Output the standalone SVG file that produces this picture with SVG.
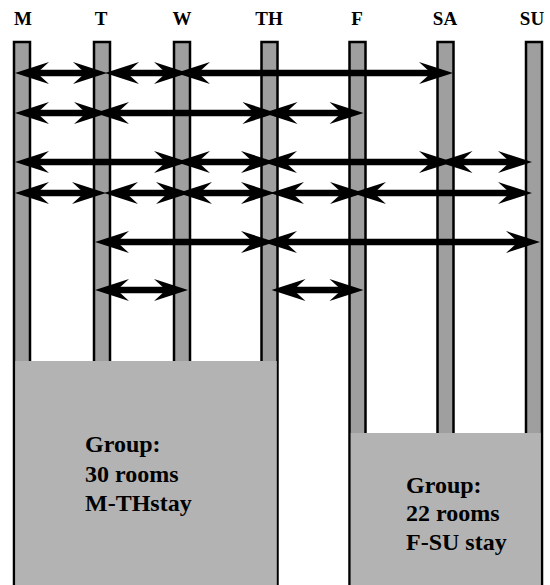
<svg xmlns="http://www.w3.org/2000/svg" width="550" height="585" viewBox="0 0 550 585">
  <style>
    .day { font-family: "Liberation Serif", "DejaVu Serif", "Noto Serif", serif; font-weight: bold; font-size: 19px; fill: #000; text-anchor: middle; }
    .bar { fill: #9f9f9f; stroke: #000; stroke-width: 2.5; }
    .block { fill: #b3b3b3; stroke: none; }
    .note { font-family: "Liberation Serif", "DejaVu Serif", "Noto Serif", serif; font-weight: bold; font-size: 24px; fill: #000; }
    .shaft { stroke: #000; stroke-width: 6.5; fill: none; marker-start: url(#head); marker-end: url(#head); }
  </style>
  <defs>
    <!-- swallowtail arrowhead; drawn past the shaft end so the tip lands 18px further on -->
    <marker id="head" markerUnits="userSpaceOnUse" orient="auto-start-reverse" refX="0" refY="0"
            markerWidth="40" markerHeight="26" overflow="visible">
      <path d="M18,0 L-16,-11 L-4,0 L-16,11 Z" fill="#000"/>
    </marker>
  </defs>

  <rect width="550" height="585" fill="#fff"/>

  <!-- day columns -->
  <g id="day-m"><text class="day" x="23" y="25">M</text><rect class="bar" x="14" y="42" width="16" height="560"/></g>
  <g id="day-t"><text class="day" x="101" y="25">T</text><rect class="bar" x="94" y="42" width="16" height="560"/></g>
  <g id="day-w"><text class="day" x="182" y="25">W</text><rect class="bar" x="174" y="42" width="16" height="560"/></g>
  <g id="day-th"><text class="day" x="269" y="25">TH</text><rect class="bar" x="261.5" y="42" width="16" height="560"/></g>
  <g id="day-f"><text class="day" x="357" y="25">F</text><rect class="bar" x="349.5" y="42" width="16" height="560"/></g>
  <g id="day-sa"><text class="day" x="445" y="25">SA</text><rect class="bar" x="437.5" y="42" width="16" height="560"/></g>
  <g id="day-su"><text class="day" x="532" y="25">SU</text><rect class="bar" x="526" y="42" width="16" height="560"/></g>

  <!-- stays: shafts run between points 18px inside each tip -->
  <g id="connectors">
    <!-- row 1 -->
    <line class="shaft" x1="33" y1="73" x2="89" y2="73"/>
    <line class="shaft" x1="123" y1="73" x2="170" y2="73"/>
    <line class="shaft" x1="194" y1="73" x2="435" y2="73"/>
    <!-- row 2 -->
    <line class="shaft" x1="33" y1="113" x2="90" y2="113"/>
    <line class="shaft" x1="113" y1="113" x2="258.5" y2="113"/>
    <line class="shaft" x1="281.5" y1="113" x2="345.5" y2="113"/>
    <!-- row 3 -->
    <line class="shaft" x1="33" y1="162" x2="170" y2="162"/>
    <line class="shaft" x1="194" y1="162" x2="257" y2="162"/>
    <line class="shaft" x1="281" y1="162" x2="435" y2="162"/>
    <line class="shaft" x1="456.5" y1="162" x2="514" y2="162"/>
    <!-- row 4 -->
    <line class="shaft" x1="33" y1="193" x2="88" y2="193"/>
    <line class="shaft" x1="122" y1="193" x2="172" y2="193"/>
    <line class="shaft" x1="196" y1="193" x2="257" y2="193"/>
    <line class="shaft" x1="288" y1="193" x2="346" y2="193"/>
    <line class="shaft" x1="370" y1="193" x2="514" y2="193"/>
    <!-- row 5 -->
    <line class="shaft" x1="113" y1="242" x2="257" y2="242"/>
    <line class="shaft" x1="281" y1="242" x2="522" y2="242"/>
    <!-- row 6 -->
    <line class="shaft" x1="113" y1="290" x2="170" y2="290"/>
    <line class="shaft" x1="289.5" y1="290" x2="345.5" y2="290"/>
  </g>

  <!-- room blocks -->
  <g id="group-m-th">
    <rect class="block" x="15.25" y="361" width="261.5" height="230"/>
    <text class="note" x="85" y="452">Group:</text>
    <text class="note" x="85" y="481.5">30 rooms</text>
    <text class="note" x="85" y="511">M-THstay</text>
  </g>
  <g id="group-f-su">
    <rect class="block" x="350.75" y="433" width="190" height="160"/>
    <text class="note" x="406" y="492.5">Group:</text>
    <text class="note" x="406" y="520.5">22 rooms</text>
    <text class="note" x="406" y="550">F-SU stay</text>
  </g>
</svg>
